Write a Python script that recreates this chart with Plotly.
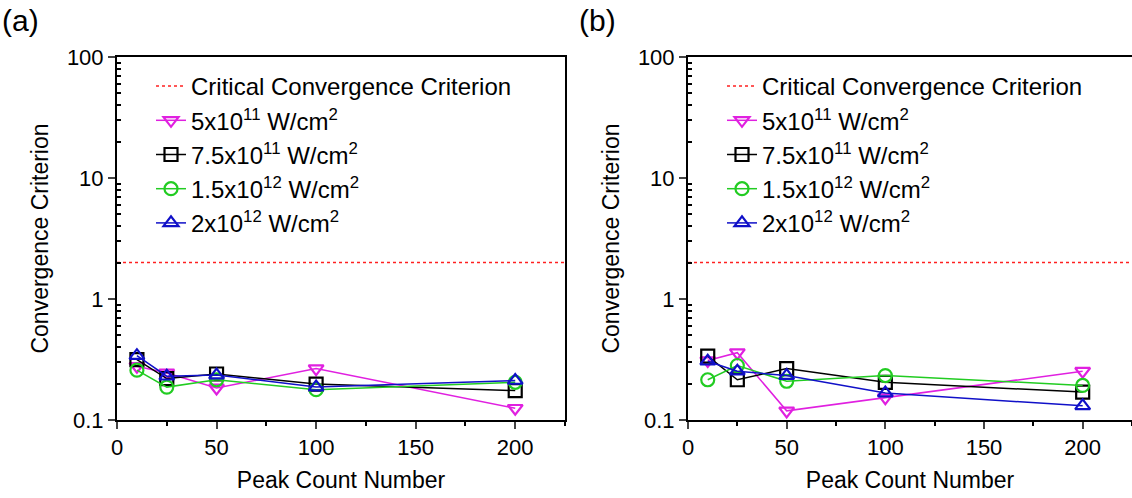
import plotly.graph_objects as go

peak_count = [10, 25, 50, 100, 200]
critical_value = 2.0

series_names = ["5x10<sup>11</sup> W/cm<sup>2</sup>",
                "7.5x10<sup>11</sup> W/cm<sup>2</sup>",
                "1.5x10<sup>12</sup> W/cm<sup>2</sup>",
                "2x10<sup>12</sup> W/cm<sup>2</sup>"]

# panel (a)
a_5e11 = [0.278, 0.245, 0.184, 0.266, 0.125]
a_75e11 = [0.316, 0.220, 0.240, 0.198, 0.175]
a_15e12 = [0.258, 0.187, 0.215, 0.178, 0.205]
a_2e12 = [0.340, 0.230, 0.235, 0.187, 0.212]

# panel (b)
b_5e11 = [0.310, 0.360, 0.119, 0.153, 0.253]
b_75e11 = [0.337, 0.215, 0.266, 0.205, 0.170]
b_15e12 = [0.215, 0.282, 0.209, 0.233, 0.193]
b_2e12 = [0.306, 0.253, 0.233, 0.167, 0.131]

colors = ["#E020E0", "#000000", "#22CC22", "#1010C8"]
symbols = ["triangle-down-open", "square-open", "circle-open", "triangle-up-open"]

FONT = "Liberation Sans, Arial, sans-serif"
W, H = 1132, 498

fig = go.Figure()

panels = [("x", "y", "legend", [a_5e11, a_75e11, a_15e12, a_2e12]),
          ("x2", "y2", "legend2", [b_5e11, b_75e11, b_15e12, b_2e12])]

for xa, ya, lg, data in panels:
    fig.add_trace(go.Scatter(
        x=[0, 230], y=[critical_value, critical_value], mode="lines",
        line=dict(color="#FF2020", width=1.5, dash="dot"),
        name="Critical Convergence Criterion", xaxis=xa, yaxis=ya, legend=lg))
    for name, vals, c, s in zip(series_names, data, colors, symbols):
        fig.add_trace(go.Scatter(
            x=peak_count, y=vals, mode="lines+markers", name=name,
            line=dict(color=c, width=1.5),
            marker=dict(symbol=s, size=13, color=c, line=dict(width=2.2, color=c)),
            xaxis=xa, yaxis=ya, legend=lg))

ydom = [1 - 420 / H, 1 - 57 / H]
xdom_a = [117 / W, 565 / W]
xdom_b = [688 / W, 1.0]

common_x = dict(range=[0, 225], tickvals=[0, 50, 100, 150, 200], ticks="outside",
                ticklen=7, tickwidth=2, showline=True, linewidth=2, linecolor="black",
                showgrid=False, zeroline=False,
                tickfont=dict(size=22, family=FONT, color="black"),
                minor=dict(tickvals=[25, 75, 125, 175, 225], ticks="outside", ticklen=4,
                           tickwidth=2, tickcolor="black"),
                title=dict(text="Peak Count Number", font=dict(size=23, family=FONT, color="black"),
                           standoff=12),
                automargin=False)
common_y = dict(type="log", range=[-1, 2], tickvals=[0.1, 1, 10, 100],
                ticktext=["0.1", "1", "10", "100"], ticks="outside", ticklen=7, tickwidth=2,
                showline=True, linewidth=2, linecolor="black", showgrid=False, zeroline=False,
                tickfont=dict(size=22, family=FONT, color="black"),
                minor=dict(tickvals=[0.2, 0.3, 0.4, 0.5, 0.6, 0.7, 0.8, 0.9,
                                     2, 3, 4, 5, 6, 7, 8, 9,
                                     20, 30, 40, 50, 60, 70, 80, 90],
                           ticks="inside", ticklen=4, tickwidth=1.5, tickcolor="black"),
                title=dict(text="Convergence Criterion", font=dict(size=23, family=FONT, color="black"),
                           standoff=12),
                automargin=False)

legend_common = dict(xanchor="left", yanchor="top", bgcolor="rgba(0,0,0,0)",
                     font=dict(size=24, family=FONT, color="black"),
                     tracegroupgap=0, itemwidth=30)

fig.update_layout(
    width=W, height=H, margin=dict(l=0, r=0, t=0, b=0),
    paper_bgcolor="white", plot_bgcolor="white",
    font=dict(family=FONT, color="black"),
    xaxis=dict(common_x, domain=xdom_a, anchor="y", mirror=True),
    yaxis=dict(common_y, domain=ydom, anchor="x", mirror=True),
    xaxis2=dict(common_x, domain=xdom_b, anchor="y2", mirror=True),
    yaxis2=dict(common_y, domain=ydom, anchor="x2", mirror=False),
    legend=dict(legend_common, x=151 / W, y=1 - 64 / H),
    legend2=dict(legend_common, x=722 / W, y=1 - 64 / H),
    annotations=[
        dict(text="(a)", x=0 / W, y=1 - 2 / H, xref="paper", yref="paper", xanchor="left",
             yanchor="top", showarrow=False, font=dict(size=30, family=FONT, color="black")),
        dict(text="(b)", x=577 / W, y=1 - 2 / H, xref="paper", yref="paper", xanchor="left",
             yanchor="top", showarrow=False, font=dict(size=30, family=FONT, color="black")),
    ],
)

fig.write_html("out.html")
